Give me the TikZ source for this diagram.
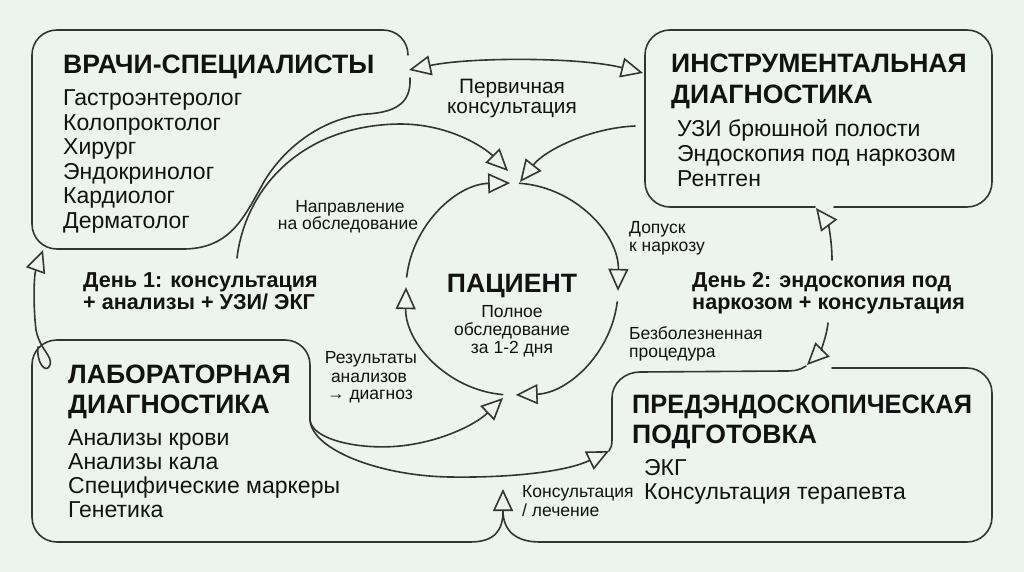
\documentclass[tikz,border=0pt]{standalone}
\usepackage{fontspec}
\usepackage{graphicx}
\setmainfont{Liberation Sans}
\usetikzlibrary{arrows.meta}
\definecolor{bg}{RGB}{237,244,239}
\definecolor{lc}{RGB}{52,52,52}
\definecolor{tc}{RGB}{18,18,18}
\tikzset{
  otri/.tip={Triangle[open,length=22pt,width=20pt]},
  ln/.style={draw=lc,line width=1.6pt,line cap=round,line join=round},
  tip/.style={-otri},
  dtip/.style={otri-otri},
  head/.style={font=\fontsize{26.6}{30}\selectfont\bfseries,text=tc,anchor=base west,inner sep=0pt},
  item/.style={font=\fontsize{23}{26}\selectfont,text=tc,anchor=base west,inner sep=0pt},
  day/.style={font=\fontsize{21.6}{24}\selectfont\bfseries,text=tc,anchor=base west,inner sep=0pt},
  lab/.style={font=\fontsize{17.5}{20}\selectfont,text=tc,inner sep=0pt},
  big/.style={font=\fontsize{20.8}{22}\selectfont,text=tc,inner sep=0pt,anchor=base}
}
\begin{document}
\begin{tikzpicture}[x=1pt,y=-1pt]
\fill[bg] (0,0) rectangle (1024,572);
\useasboundingbox (0,0) rectangle (1024,572);

% ---------- box outlines ----------
% Врачи-специалисты
\draw[ln] (410,78) .. controls (411,100) and (400,112) .. (367,114)
  .. controls (330,117) and (290,140) .. (265,180)
  .. controls (245,215) and (232,248) .. (185,249) -- (57,249)
  .. controls (43,249) and (32,238) .. (32,224) -- (32,55)
  .. controls (32,41) and (43,30) .. (57,30) -- (383,30)
  .. controls (397,30) and (408,41) .. (408,55);
% Инструментальная
\draw[ln,rounded corners=25pt] (834,207) -- (992,207) -- (992,30) -- (645,30) -- (645,207) -- (815,207);
% Лабораторная
\draw[ln] (310,420) -- (310,365) .. controls (310,351) and (299,340) .. (285,340) -- (57,340)
  .. controls (43,340) and (32,351) .. (32,365) -- (32,517)
  .. controls (32,531) and (43,542) .. (57,542) -- (470,542)
  .. controls (495,542) and (503,530) .. (503,511);
% Предэндоскопическая
\draw[ln] (806,366) .. controls (800,370) and (795,371) .. (785,371) -- (640,372)
  .. controls (625,372) and (612,383) .. (612,398) -- (612,440)
  .. controls (612,445) and (611,448) .. (609,451);
\draw[ln,rounded corners=25pt] (832,368) -- (992,368) -- (992,542) -- (555,542);
\coordinate (cons) at (503,489);
\draw[ln,tip] (555,542) -- (540,542) .. controls (515,542) and (503,530) .. (cons);

% ---------- texts ----------
\node[head] (h1) at (63,74) {ВРАЧИ-СПЕЦИАЛИСТЫ};
\foreach \t [count=\i] in {Гастроэнтеролог,Колопроктолог,Хирург,Эндокринолог,Кардиолог,Дерматолог}
  \node[item] (v\i) at (63,{106+24.4*(\i-1)}) {\t};

\node[head] (h2a) at (671,73) {ИНСТРУМЕНТАЛЬНАЯ};
\node[head] (h2b) at (671,104) {ДИАГНОСТИКА};
\foreach \t [count=\i] in {УЗИ брюшной полости,Эндоскопия под наркозом,Рентген}
  \node[item] (u\i) at (677,{137+24.5*(\i-1)}) {\t};

\node[head] (h3a) at (68,383) {ЛАБОРАТОРНАЯ};
\node[head] (h3b) at (68,413) {ДИАГНОСТИКА};
\foreach \t [count=\i] in {Анализы крови,Анализы кала,Специфические маркеры,Генетика}
  \node[item] (l\i) at (68,{445+24.3*(\i-1)}) {\t};

\node[head] (h4a) at (632,413) {\scalebox{0.955}[1]{ПРЕДЭНДОСКОПИЧЕСКАЯ}};
\node[head] (h4b) at (632,443) {ПОДГОТОВКА};
\node[item] (p1) at (644,475) {ЭКГ};
\node[item] (p2) at (644,499) {Консультация терапевта};

\node[head,anchor=base] (pat) at (512,292) {ПАЦИЕНТ};
\node[lab,anchor=base] (pat1) at (512,317) {Полное};
\node[lab,anchor=base] (pat2) at (512,335) {обследование};
\node[lab,anchor=base] (pat3) at (512,353) {за 1-2 дня};

\node[big] (pk1) at (512,94) {Первичная};
\node[big] (pk2) at (512,114) {консультация};
\node[lab,anchor=base] (nap1) at (350,212) {Направление};
\node[lab,anchor=base] (nap2) at (348,229) {на обследование};
\node[day] (d1a) at (83,287) {День 1: консультация};
\node[day] (d1b) at (83,309) {+ анализы + УЗИ/ ЭКГ};
\node[day] (d2a) at (692,287) {День 2: эндоскопия под};
\node[day] (d2b) at (692,309) {наркозом + консультация};
\node[lab,anchor=base west] (dop1) at (629,233) {Допуск};
\node[lab,anchor=base west] (dop2) at (629,251) {к наркозу};
\node[lab,anchor=base west] (bez1) at (629,339) {Безболезненная};
\node[lab,anchor=base west] (bez2) at (629,357) {процедура};
\node[lab,anchor=base] (res1) at (371,363) {Результаты};
\node[lab,anchor=base] (res2) at (369,382) {анализов};
\node[lab,anchor=base] (res3) at (370,399) {→ диагноз};
\node[lab,anchor=base west] (kl1) at (522,497) {Консультация};
\node[lab,anchor=base west] (kl2) at (522,516) {/ лечение};

% ---------- circle around patient ----------
\coordinate (c) at (512,289);
\draw[ln,tip] (c) ++(-86:106) arc[start angle=-86,end angle=1,radius=106];
\draw[ln,tip] (c) ++(7:106) arc[start angle=7,end angle=88,radius=106];
\draw[ln,tip] (c) ++(95:106) arc[start angle=95,end angle=181,radius=106];
\draw[ln,tip] (c) ++(186.5:106) arc[start angle=186.5,end angle=269,radius=106];

% ---------- connectors ----------
\coordinate (d1top) at (237,258);
\coordinate (intoP) at (508,171);
\draw[ln,tip] (d1top) .. controls (245,190) and (300,125) .. (400,124) .. controls (450,124) and (485,148) .. (intoP);
\coordinate (instL) at (635,126);
\coordinate (intoP2) at (520,182);
\draw[ln,tip] (instL) .. controls (590,128) and (545,150) .. (intoP2);
\coordinate (vrR) at (409,70);
\coordinate (inL) at (643,73);
\draw[ln,dtip] (vrR) .. controls (470,57) and (580,57) .. (inL);
\coordinate (d2top) at (832,260);
\coordinate (inB) at (816,208);
\draw[ln,tip] (d2top) .. controls (832,240) and (828,224) .. (inB);
\coordinate (d2bot) at (828,323);
\coordinate (prT) at (807,365);
\draw[ln,tip] (d2bot) .. controls (826,340) and (819,353) .. (prT);
\coordinate (labR) at (310,420);
\coordinate (pbot) at (503,398);
\coordinate (prL) at (609,451);
\draw[ln,tip] (labR) .. controls (312,440) and (360,450) .. (400,446) .. controls (440,442) and (475,425) .. (pbot);
\draw[ln,tip] (labR) .. controls (312,450) and (380,476) .. (450,477) .. controls (520,478) and (570,470) .. (prL);
\coordinate (labC) at (38,347);
\coordinate (vrB) at (43,250);
\draw[ln,tip] (labC) .. controls (36,362) and (46,375) .. (50,365) .. controls (53,356) and (40,350) .. (36,330) .. controls (33,305) and (34,275) .. (vrB);
\end{tikzpicture}
\end{document}
